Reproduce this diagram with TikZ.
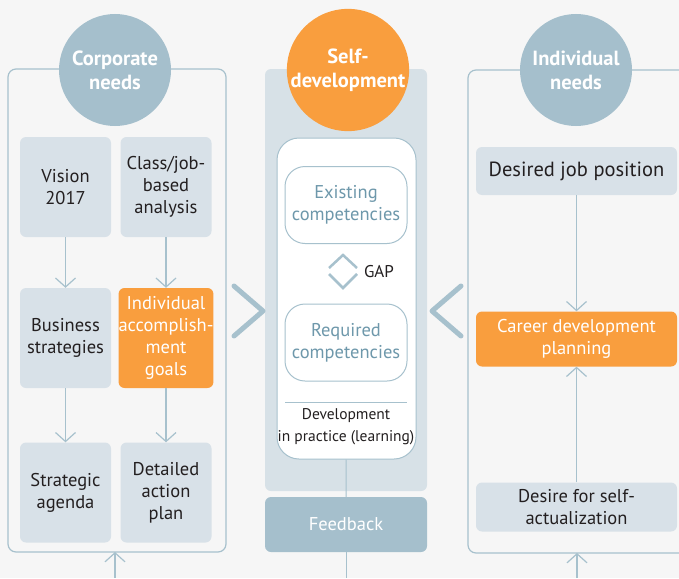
\documentclass[tikz,border=0pt]{standalone}
\usepackage{fontspec}
\setmainfont{PT Sans}
\usetikzlibrary{arrows.meta}

\definecolor{pagebg}{HTML}{F6F6F6}
\definecolor{lineblue}{HTML}{A7C1CD}
\definecolor{needblue}{HTML}{A5BFCC}
\definecolor{boxgray}{HTML}{D8E1E8}
\definecolor{midpanel}{HTML}{D7E1E7}
\definecolor{selforange}{HTML}{F99E3E}
\definecolor{compblue}{HTML}{6E98AB}
\definecolor{inkdark}{HTML}{231F20}

\begin{document}
\begin{tikzpicture}[
  x=1pt, y=-1pt,
  every node/.style={font=\fontsize{18.5}{22}\selectfont, text=inkdark, align=center},
  needcircle/.style={circle, fill=needblue, minimum size=112pt, inner sep=0pt, text=white, font=\fontsize{20.5}{24}\selectfont\bfseries},
  graybox/.style={rectangle, rounded corners=6pt, fill=boxgray, inner sep=0pt},
  smallbox/.style={graybox, minimum width=91pt, minimum height=100pt},
  widebox/.style={graybox, minimum width=201pt},
  hotbox/.style={fill=selforange, text=white},
  compbox/.style={rectangle, rounded corners=20pt, draw=lineblue, line width=1pt, fill=white, minimum width=122pt, minimum height=77pt, text=compblue},
  frame/.style={draw=lineblue, line width=1.2pt, rounded corners=8pt},
  link/.style={draw=lineblue, line width=1.2pt, -{Straight Barb[length=9pt,width=20pt]}},
  chevron/.style={draw=lineblue, line width=5pt, line cap=round, line join=round},
]
\useasboundingbox[fill=pagebg] (0,0) rectangle (679,578);
\clip (0,0) rectangle (679,578);

% Corporate needs (left)
\draw[frame] (8,69) rectangle (226,552);
\node[needcircle] (corp) at (115,70) {Corporate\\needs};
\node[smallbox] (vision) at (65.5,187) {Vision\\2017};
\node[smallbox] (jobanalysis) at (166,187) {Class/job-\\based\\analysis};
\node[smallbox] (business) at (65.5,338) {Business\\strategies};
\node[smallbox, hotbox] (goals) at (166,338) {Individual\\accomplish-\\ment\\goals};
\node[smallbox] (agenda) at (65.5,492.5) {Strategic\\agenda};
\node[smallbox] (actionplan) at (166,492.5) {Detailed\\action\\plan};
\draw[link] (vision) -- (business);
\draw[link] (business) -- (agenda);
\draw[link] (jobanalysis) -- (goals);
\draw[link] (goals) -- (actionplan);
\coordinate (corpin) at (115,578);
\coordinate (corpframe) at (115,552);
\draw[link] (corpin) -- (corpframe);

% Self-development (middle)
\fill[midpanel, rounded corners=6pt] (265,69) rectangle (427,491);
\node[needcircle, fill=selforange] (self) at (348,70) {Self-\\development};
\node[rectangle, rounded corners=22pt, draw=lineblue, line width=1pt, fill=white, minimum width=139pt, minimum height=321pt] (practice) at (346.5,298.5) {};
\node[compbox] (existing) at (346,205) {Existing\\competencies};
\node[compbox] (required) at (346,342.5) {Required\\competencies};
\draw[lineblue, line width=1pt] (285,402) -- (407,402);
\node[font=\fontsize{15.5}{22}\selectfont] (learning) at (346,427) {Development\\in practice (learning)};
\draw[lineblue, line width=2.5pt] (329,268) -- (343,255) -- (357,268);
\draw[lineblue, line width=2.5pt] (329,274) -- (343,288) -- (357,274);
\node[font=\fontsize{17}{20}\selectfont] (gap) at (379,272) {GAP};
\node[rectangle, rounded corners=6pt, fill=needblue, text=white, minimum width=162pt, minimum height=55pt] (feedback) at (346,524.5) {Feedback};
\coordinate (fbout) at (346,578);
\draw[lineblue, line width=1pt] (practice) -- (feedback);
\draw[lineblue, line width=1pt] (feedback) -- (fbout);

% Chevrons
\draw[chevron] (234,286) -- (263,311) -- (234,336);
\draw[chevron] (461,286) -- (432,311) -- (461,336);

% Individual needs (right)
\draw[frame] (468,70) rectangle (700,553);
\node[needcircle] (indiv) at (576,70) {Individual\\needs};
\node[widebox, minimum height=48pt, font=\fontsize{20.5}{24}\selectfont] (desired) at (576.5,171) {Desired job position};
\node[widebox, hotbox, minimum height=55pt] (career) at (576.5,339) {Career development\\planning};
\node[widebox, minimum height=49pt] (desire) at (576.5,507) {Desire for self-\\actualization};
\draw[link] (desired) -- (career);
\draw[link] (desire) -- (career);
\coordinate (indivin) at (577,578);
\coordinate (indivframe) at (577,553);
\draw[link] (indivin) -- (indivframe);
\end{tikzpicture}
\end{document}
